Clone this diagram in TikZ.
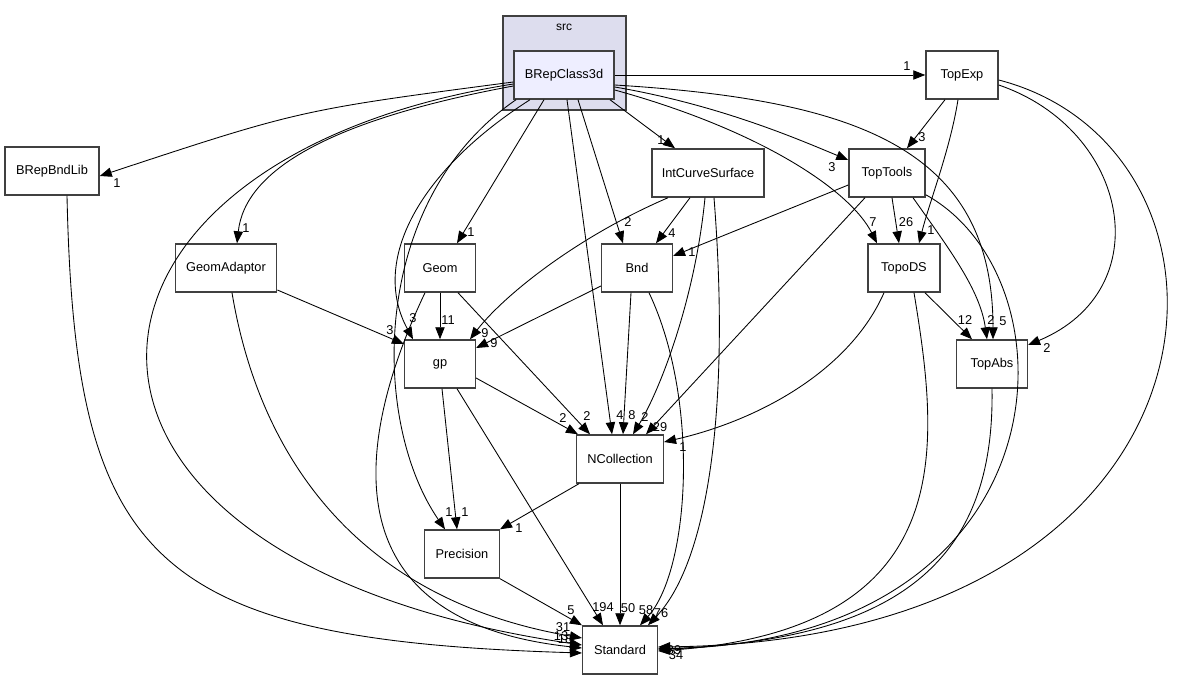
\documentclass[tikz,border=0pt]{standalone}
\usepackage{fontspec}
\setmainfont{Liberation Sans}
\usetikzlibrary{calc,arrows.meta}
\definecolor{clfill}{HTML}{DDDDEE}
\definecolor{selfill}{HTML}{EEEEFF}
\definecolor{bord}{HTML}{404040}
\tikzset{
  pkg/.style={draw=bord,line width=1.1pt,fill=white,minimum height=36pt,inner sep=0pt,font=\fontsize{9.6}{11}\selectfont},
  dep/.style={draw=black,line width=0.65pt,-{Triangle[length=9pt,width=7pt]}},
  lab/.style={font=\fontsize{9.6}{11}\selectfont,inner sep=0pt}
}
\begin{document}
\begin{tikzpicture}[x=0.75pt,y=-0.75pt]
\useasboundingbox (0,0) rectangle (1186,681);
% cluster
\node[draw=bord,line width=1.1pt,fill=clfill,minimum width=92.25pt,minimum height=70.5pt,inner sep=0pt] (src) at (564.5,63) {};
\node[lab,font=\fontsize{9}{10}\selectfont] (srclab) at (564,27) {src};
% nodes
\node[pkg,fill=selfill,minimum width=75pt] (B) at (564,75) {BRepClass3d};
\node[pkg,minimum width=54pt] (T) at (962,75) {TopExp};
\node[pkg,minimum width=70.5pt] (BB) at (52,171) {BRepBndLib};
\node[pkg,minimum width=84pt] (I) at (708,173) {IntCurveSurface};
\node[pkg,minimum width=57pt] (TT) at (887,173) {TopTools};
\node[pkg,minimum width=76pt] (GA) at (226,268) {GeomAdaptor};
\node[pkg,minimum width=53pt] (G) at (440,268) {Geom};
\node[pkg,minimum width=53pt] (Bn) at (637,268) {Bnd};
\node[pkg,minimum width=54pt] (TD) at (904,268) {TopoDS};
\node[pkg,minimum width=53pt] (gp) at (440,364) {gp};
\node[pkg,minimum width=53pt] (TA) at (992,364) {TopAbs};
\node[pkg,minimum width=65pt] (N) at (620,459) {NCollection};
\node[pkg,minimum width=56pt] (P) at (462,554) {Precision};
\node[pkg,minimum width=56pt] (S) at (620,650) {Standard};
% edges from BRepClass3d
\draw[dep] (B.east) -- (T.west);
\draw[dep] ($(B.west)+(0,7)$) .. controls (300,110) .. ($(BB.east)+(0,5)$);
\draw[dep] ($(B.south)+(46,0)$) -- ($(I.north)+(-33,0)$);
\draw[dep] ($(B.east)+(0,12)$) .. controls (720,105) and (800,140) .. ($(TT.west)+(0,-13)$);
\draw[dep] ($(B.west)+(0,11)$) .. controls (330,120) and (245,170) .. ($(GA.north)+(11,0)$);
\draw[dep] ($(B.south)+(-20,0)$) -- ($(G.north)+(17,0)$);
\draw[dep] ($(B.south)+(14,0)$) -- ($(Bn.north)+(-14,0)$);
\draw[dep] ($(B.east)+(0,15)$) .. controls (760,130) and (850,190) .. ($(TD.north)+(-27,0)$);
\draw[dep] ($(B.south)+(-34,0)$) .. controls (420,170) and (370,260) .. ($(gp.north)+(-27,0)$);
\draw[dep] ($(B.south)+(3,0)$) -- ($(N.north)+(-8,0)$);
\draw[dep] ($(B.south)+(-48,0)$) .. controls (370,200) and (370,420) .. ($(P.north)+(-17,0)$);
\draw[dep] ($(B.east)+(0,10)$) .. controls (860,100) and (993,150) .. ($(TA.north)+(1,0)$);
\draw[dep] ($(B.west)+(0,9)$) .. controls (30,160) and (0,560) .. ($(S.west)+(0,-5)$);
% TopExp
\draw[dep] ($(T.south)+(-17,0)$) -- ($(TT.north)+(20,0)$);
\draw[dep] ($(T.south)+(-4,0)$) .. controls (950,150) and (930,200) .. ($(TD.north)+(15,0)$);
\draw[dep] ($(T.east)+(0,10)$) .. controls (1130,130) and (1160,290) .. ($(TA.east)+(0,-19)$);
\draw[dep] ($(T.east)+(0,5)$) .. controls (1270,150) and (1250,640) .. ($(S.east)+(0,-3)$);
% IntCurveSurface
\draw[dep] ($(I.south)+(-18,0)$) -- ($(Bn.north)+(19,0)$);
\draw[dep] ($(I.south)+(-40,0)$) .. controls (570,240) and (500,300) .. ($(gp.north)+(30,0)$);
\draw[dep] ($(I.south)+(-3,0)$) .. controls (695,300) and (660,390) .. ($(N.north)+(13,0)$);
\draw[dep] ($(I.south)+(6,0)$) .. controls (730,400) and (710,560) .. ($(S.north)+(28,0)$);
% TopTools
\draw[dep] ($(TT.west)+(0,12)$) -- ($(Bn.east)+(0,-12)$);
\draw[dep] ($(TT.south)+(5,0)$) -- ($(TD.north)+(-5,0)$);
\draw[dep] ($(TT.south)+(26,0)$) .. controls (950,250) and (980,290) .. ($(TA.north)+(-5,0)$);
\draw[dep] ($(TT.south)+(-22,0)$) -- ($(N.north)+(26,0)$);
\draw[dep] ($(TT.south east)+(0,-3)$) .. controls (1080,280) and (1070,640) .. ($(S.east)+(0,-1)$);
% TopoDS
\draw[dep] ($(TD.south)+(21,0)$) -- ($(TA.north)+(-20,0)$);
\draw[dep] ($(TD.south)+(-20,0)$) .. controls (850,370) and (760,420) .. ($(N.east)+(0,-17)$);
\draw[dep] ($(TD.south)+(10,0)$) .. controls (940,450) and (960,630) .. ($(S.east)+(0,1)$);
% GeomAdaptor
\draw[dep] ($(GA.east)+(0,22)$) -- ($(gp.west)+(0,-20)$);
\draw[dep] ($(GA.south)+(6,0)$) .. controls (260,460) and (360,600) .. ($(S.west)+(0,-12)$);
% Geom
\draw[dep] (G.south) -- (gp.north);
\draw[dep] ($(G.south)+(18,0)$) -- ($(N.north)+(-30,0)$);
\draw[dep] ($(G.south)+(-15,0)$) .. controls (360,430) and (320,620) .. ($(S.west)+(0,-2)$);
% Bnd
\draw[dep] ($(Bn.west)+(0,18)$) -- ($(gp.east)+(0,-16)$);
\draw[dep] ($(Bn.south)+(-6,0)$) -- ($(N.north)+(3,0)$);
\draw[dep] ($(Bn.south)+(12,0)$) .. controls (700,400) and (690,570) .. ($(S.north)+(20,0)$);
% gp
\draw[dep] ($(gp.east)+(0,14)$) -- ($(N.north west)+(2,0)$);
\draw[dep] ($(gp.south)+(2,0)$) -- ($(P.north)+(-5,0)$);
\draw[dep] ($(gp.south)+(17,0)$) -- ($(S.north)+(-17,0)$);
% TopAbs
\draw[dep] (TA.south) .. controls (995,560) and (900,640) .. ($(S.east)+(0,-1)$);
% NCollection
\draw[dep] ($(N.south west)+(3,0)$) -- (P.north east);
\draw[dep] (N.south) -- (S.north);
% Precision
\draw[dep] (P.south east) -- (S.north west);
% BRepBndLib
\draw[dep] ($(BB.south)+(15,0)$) .. controls (75,560) and (150,640) .. ($(S.west)+(0,3)$);
% labels
\node[lab] (l1) at (907,66) {1};
\node[lab] (l2) at (117,183) {1};
\node[lab] (l3) at (661,140) {1};
\node[lab] (l4) at (832,167) {3};
\node[lab] (l5) at (246,228) {1};
\node[lab] (l6) at (471,232) {1};
\node[lab] (l7) at (628,222) {2};
\node[lab] (l8) at (873,222) {7};
\node[lab] (l9) at (413,318) {3};
\node[lab] (l10) at (620,415) {4};
\node[lab] (l11) at (449,512) {1};
\node[lab] (l12) at (1003,321) {5};
\node[lab] (l13) at (922,137) {3};
\node[lab] (l14) at (931,230) {1};
\node[lab] (l15) at (1047,348) {2};
\node[lab] (l16) at (672,233) {4};
\node[lab] (l17) at (485,333) {9};
\node[lab] (l18) at (645,417) {2};
\node[lab] (l19) at (661,613) {76};
\node[lab] (l20) at (692,252) {1};
\node[lab] (l21) at (906,222) {26};
\node[lab] (l22) at (991,320) {2};
\node[lab] (l23) at (660,427) {29};
\node[lab] (l24) at (390,330) {3};
\node[lab] (l25) at (563,627) {31};
\node[lab] (l26) at (448,320) {11};
\node[lab] (l27) at (587,416) {2};
\node[lab] (l28) at (494,343) {9};
\node[lab] (l29) at (632,415) {8};
\node[lab] (l30) at (646,610) {58};
\node[lab] (l31) at (965,320) {12};
\node[lab] (l32) at (683,447) {1};
\node[lab] (l33) at (563,418) {2};
\node[lab] (l34) at (465,512) {1};
\node[lab] (l35) at (603,607) {194};
\node[lab] (l36) at (519,528) {1};
\node[lab] (l37) at (628,608) {50};
\node[lab] (l38) at (571,610) {5};
\node[lab] (l39) at (561,636) {13};
\node[lab] (l40) at (565,639) {18};
\node[lab] (l41) at (674,650) {39};
\node[lab] (l42) at (676,655) {34};
\end{tikzpicture}
\end{document}
